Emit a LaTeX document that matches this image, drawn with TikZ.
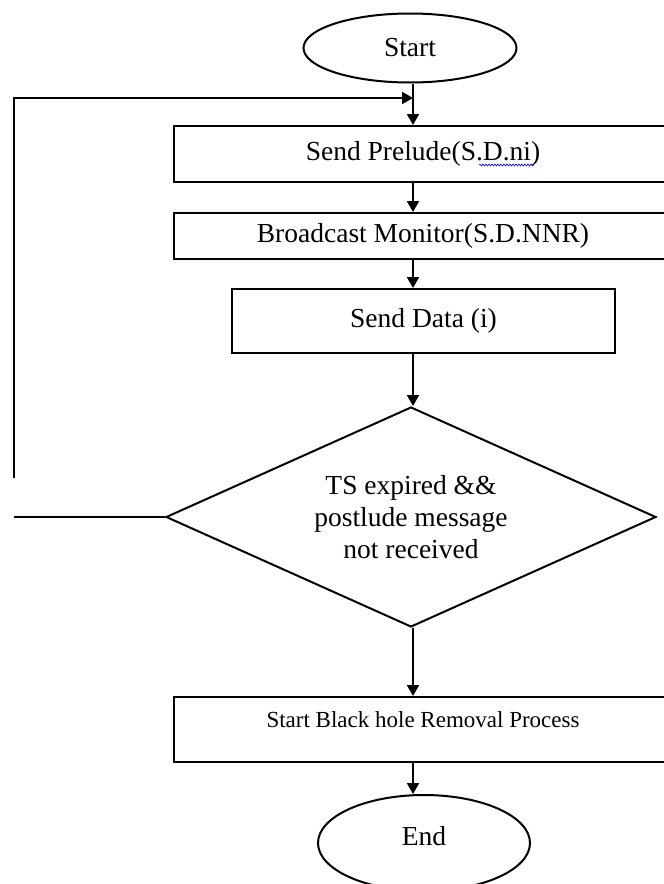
\documentclass[tikz,border=0pt]{standalone}
\usepackage{fontspec}
\setmainfont{Liberation Serif}
\usetikzlibrary{arrows.meta,positioning,shapes.geometric,decorations.pathmorphing}
\newcommand{\flowfont}{\fontsize{27.5}{31.6}\selectfont}
\newcommand{\smallflowfont}{\fontsize{23}{26}\selectfont}

\tikzset{
  term/.style={ellipse, draw, line width=2pt, inner sep=0pt, font=\flowfont},
  proc/.style={rectangle, draw, line width=2pt, inner sep=0pt, font=\flowfont},
  decision/.style={diamond, draw, line width=2pt, inner sep=0pt, aspect=2.2,
    align=center, font=\flowfont},
  flow/.style={line width=2pt, -{Triangle[length=11pt,width=12pt]}},
  plain/.style={line width=2pt}
}

\begin{document}
\begin{tikzpicture}[x=1pt, y=-1pt]
  \clip (0,0) rectangle (664,884);

  % Terminals and steps
  \node[term, minimum width=213pt, minimum height=69pt] (start) at (410,48) {Start};
  \node[proc, minimum width=498pt, minimum height=56pt] (prelude) at (423,154) {Send Prelude(S.D.ni)};
  \node[proc, minimum width=498pt, minimum height=46pt] (monitor) at (423,236) {Broadcast Monitor(S.D.NNR)};
  \node[proc, minimum width=383pt, minimum height=64pt] (data) at (423.5,321) {Send Data (i)};
  \node[decision, minimum width=490pt, minimum height=220pt] (test) at (411,517)
    {TS expired \&\&\\postlude message\\not received};
  \node[proc, minimum width=498pt, minimum height=65pt, font=\smallflowfont, text depth=20pt] (removal) at (423,729.5)
    {Start Black hole Removal Process};
  \node[term, minimum width=212pt, minimum height=96pt, text depth=14pt] (end) at (424,843) {End};

  % Spell check squiggle
  \draw[blue, line width=0.6pt, decorate, decoration={snake, amplitude=1pt, segment length=3pt}]
    (479,165) -- (534,165);

  % Main flow
  \coordinate (axis) at (413,0);
  \coordinate (join) at (413,98);
  \draw[flow] (axis |- start.south) -- (axis |- prelude.north);
  \draw[flow] (axis |- prelude.south) -- (axis |- monitor.north);
  \draw[flow] (axis |- monitor.south) -- (axis |- data.north);
  \draw[flow] (axis |- data.south) -- (axis |- test.north);
  \draw[flow] (axis |- test.south) -- (axis |- removal.north);
  \draw[flow] (axis |- removal.south) -- (axis |- end.north);

  % Loop back
  \coordinate (loopx) at (14,0);
  \draw[plain] (test.west) -- (loopx |- test.west);
  \draw[flow] (14,478) |- (join);
\end{tikzpicture}
\end{document}
